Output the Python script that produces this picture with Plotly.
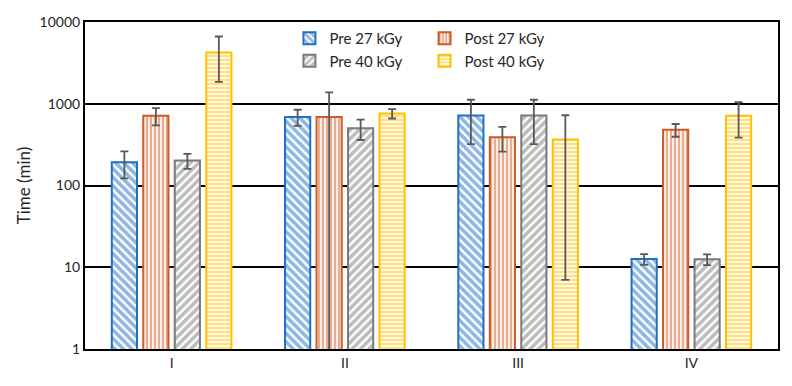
import plotly.graph_objects as go

categories = ["I", "II", "III", "IV"]

pre27 = [192, 690, 720, 12.6]
pre27_err = [70, 155, 400, 1.9]
post27 = [715, 690, 390, 480]
post27_err = [170, 690, 130, 85]
pre40 = [202, 500, 720, 12.5]
pre40_err = [42, 140, 400, 1.9]
post40 = [4250, 760, 365, 715]
post40_err = [2400, 100, 358, 330]

tick_vals = [1, 10, 100, 1000, 10000]
tick_text = ["1", "10", "100", "1000", "10000"]

FONT = "Lato"
series = [
    ("Pre 27 kGy", pre27, pre27_err, "#1F6FC4", "\\", 6, "legend"),
    ("Post 27 kGy", post27, post27_err, "#CF5A24", "|", 4, "legend2"),
    ("Pre 40 kGy", pre40, pre40_err, "#7A7A7A", "/", 6, "legend"),
    ("Post 40 kGy", post40, post40_err, "#FFC000", "-", 4, "legend2"),
]

fig = go.Figure()
for name, vals, errs, col, shape, size, leg in series:
    fig.add_trace(go.Bar(
        name=name, x=categories, y=vals, legend=leg,
        marker=dict(
            color="white",
            line=dict(color=col, width=2),
            pattern=dict(shape=shape, fgcolor=col, bgcolor="white",
                         size=size, solidity=0.6, fillmode="overlay"),
        ),
        error_y=dict(type="data", array=errs, visible=True,
                     color="#595959", thickness=1.8, width=4),
    ))

leg_font = dict(family=FONT, size=15, color="#262626")
fig.update_layout(
    width=792, height=386,
    margin=dict(l=85, r=14, t=22, b=37),
    paper_bgcolor="white", plot_bgcolor="white",
    barmode="group", bargap=0.273, bargroupgap=0.2,
    font=dict(family=FONT, size=14, color="#262626"),
    legend=dict(x=0.295, y=1.0, xanchor="left", yanchor="top",
                orientation="v", bgcolor="rgba(0,0,0,0)", itemwidth=30,
                tracegroupgap=0, font=leg_font),
    legend2=dict(x=0.49, y=1.0, xanchor="left", yanchor="top",
                 orientation="v", bgcolor="rgba(0,0,0,0)", itemwidth=30,
                 tracegroupgap=0, font=leg_font),
    xaxis=dict(showline=True, linecolor="black", linewidth=2, mirror=True,
               ticks="", showgrid=False, tickfont=dict(size=14),
               automargin=False),
    yaxis=dict(type="log", range=[0, 4], tickvals=tick_vals, ticktext=tick_text,
               showline=True, linecolor="black", linewidth=2, mirror=True,
               showgrid=True, gridcolor="black", gridwidth=1.5, ticks="",
               automargin=False,
               title=dict(text="Time (min)", font=dict(size=17), standoff=5),
               tickfont=dict(size=14)),
)

fig.write_html("out.html", config={"displayModeBar": False},
               post_script="document.body.style.margin='0';")
